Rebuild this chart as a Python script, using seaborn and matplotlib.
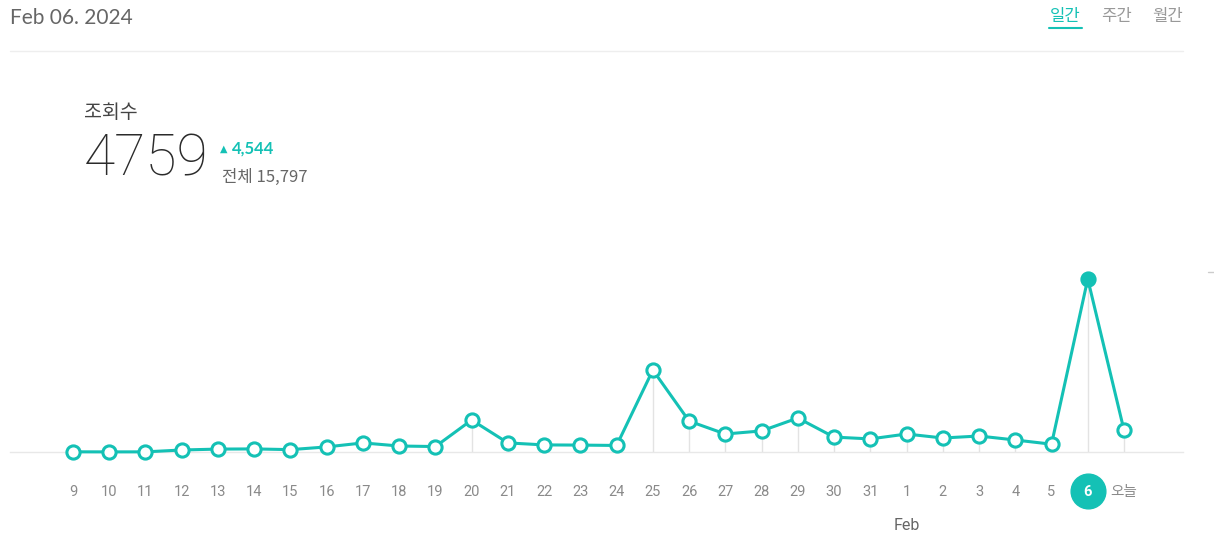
import matplotlib
matplotlib.use("Agg")
import matplotlib.pyplot as plt
import seaborn as sns
import pandas as pd
from matplotlib.lines import Line2D

# daily views, Jan 9 .. Feb 6 + today
days = ["9", "10", "11", "12", "13", "14", "15", "16", "17", "18", "19", "20",
        "21", "22", "23", "24", "25", "26", "27", "28", "29", "30", "31",
        "1", "2", "3", "4", "5", "6", "오늘"]
views = [5, 3, 4, 55, 80, 85, 65, 140, 250, 165, 150, 880,
         250, 195, 190, 180, 2255, 850, 495, 580, 935, 410, 360,
         495, 385, 440, 330, 215, 4759, 600]
highlight = 28  # index of "6"

teal = "#14C1B5"
W, H = 1214, 541

df = pd.DataFrame({"idx": range(len(days)), "day": days, "views": views})

sns.set_style("white")
plt.rcParams["font.family"] = ["Lato", "Noto Sans CJK KR", "DejaVu Sans"]

fig = plt.figure(figsize=(W / 100, H / 100), dpi=100)

def fx(x):
    return x / W

def fy(y):
    return 1 - y / H

# plot axes: baseline at y=452 px, x from 10 to 1183 px
top_px, base_px = 230, 452
ax = fig.add_axes([fx(10), fy(base_px), fx(1183) - fx(10), (base_px - top_px) / H])
x0_px, step = 73, (1124 - 73) / 29
ax.set_xlim(-(x0_px - 10) / step, 29 + (1183 - 1124) / step)
ax.set_ylim(0, 4759 * (base_px - top_px) / (base_px - 279))

ax.vlines(df["idx"], 0, df["views"], color="#e3e3e3", lw=1, zorder=1)
sns.lineplot(data=df, x="idx", y="views", ax=ax, color=teal, lw=2.2,
             marker="o", markersize=9.5, markerfacecolor="white",
             markeredgecolor=teal, markeredgewidth=2.2, clip_on=False, zorder=3)
ax.plot([highlight], [views[highlight]], "o", color=teal, markersize=9.5,
        clip_on=False, zorder=4)

for s in ["top", "right", "left"]:
    ax.spines[s].set_visible(False)
ax.spines["bottom"].set_color("#e8e8e8")
ax.spines["bottom"].set_linewidth(1)
ax.set_yticks([])
ax.set_xlabel("")
ax.set_ylabel("")
ax.set_xticks(range(len(days)))
ax.set_xticklabels(days, family=["Roboto", "Noto Sans CJK KR"], fontsize=10.5,
                   color="#8a8a8a")
ax.tick_params(axis="x", length=0, pad=24)
ax.get_xticklabels()[highlight].set_color("white")
ax.get_xticklabels()[highlight].set_fontweight("bold")

ah = base_px - top_px
ax.plot([highlight], [-(491 - base_px) / ah], "o", color=teal, markersize=25,
        transform=ax.get_xaxis_transform(), clip_on=False, zorder=0)
ax.text(23, -(526 - base_px) / ah, "Feb", transform=ax.get_xaxis_transform(),
        ha="center", va="center", fontsize=11.5, color="#666",
        family=["Roboto", "Noto Sans CJK KR"])

# header
fig.text(fx(10), fy(18), "Feb 06. 2024", fontsize=15, color="#666",
         va="center", ha="left")
fig.add_artist(Line2D([fx(10), fx(1183)], [fy(51), fy(51)], color="#eeeeee", lw=1))
kr = ["Noto Sans CJK KR", "DejaVu Sans"]
fig.text(fx(1065), fy(17), "일간", fontsize=12, color=teal, ha="center",
         va="center", family=kr)
fig.add_artist(Line2D([fx(1049), fx(1082)], [fy(28), fy(28)], color=teal, lw=1.5))
fig.text(fx(1117), fy(17), "주간", fontsize=12, color="#999", ha="center",
         va="center", family=kr)
fig.text(fx(1168), fy(17), "월간", fontsize=12, color="#999", ha="center",
         va="center", family=kr)

fig.text(fx(84), fy(112), "조회수", fontsize=14, color="#444", ha="left",
         va="center", family=kr)
fig.text(fx(84), fy(160), "4759", fontsize=41, color="#2b2b2b", ha="left",
         va="center", fontweight="light", family=["Roboto", "DejaVu Sans"])
fig.text(fx(220), fy(149), "▲", fontsize=7, color=teal, ha="left", va="center",
         family=["DejaVu Sans"])
fig.text(fx(232), fy(149), "4,544", fontsize=12, color=teal, ha="left",
         va="center", fontweight="bold", family=["Lato", "DejaVu Sans"])
fig.text(fx(222), fy(177), "전체 15,797", fontsize=12, color="#666", ha="left",
         va="center", family=kr)

fig.add_artist(Line2D([fx(1208), fx(1214)], [fy(272), fy(272)], color="#cccccc", lw=1))

fig.savefig("out.png", dpi=100)
